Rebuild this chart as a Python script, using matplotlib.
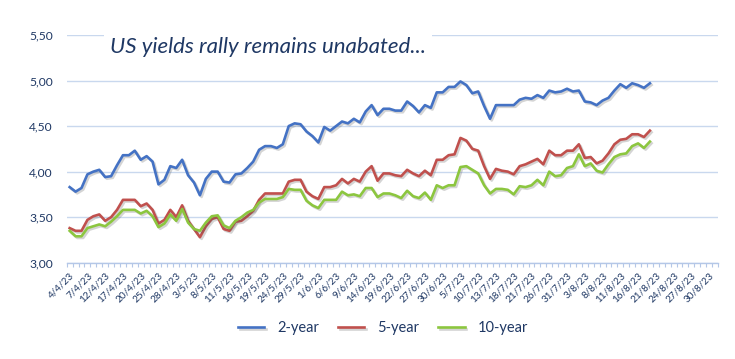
import matplotlib
matplotlib.use("Agg")
import matplotlib.pyplot as plt
import matplotlib.patheffects as pe
import matplotlib.transforms as mtransforms
import numpy as np

# ---- data ----
tick_labels = ["4/4/23", "7/4/23", "12/4/23", "17/4/23", "20/4/23", "25/4/23", "28/4/23",
               "3/5/23", "8/5/23", "11/5/23", "16/5/23", "19/5/23", "24/5/23", "29/5/23",
               "1/6/23", "6/6/23", "9/6/23", "14/6/23", "19/6/23", "22/6/23", "27/6/23",
               "30/6/23", "5/7/23", "10/7/23", "13/7/23", "18/7/23", "21/7/23", "26/7/23",
               "31/7/23", "3/8/23", "8/8/23", "11/8/23", "16/8/23", "21/8/23", "24/8/23",
               "27/8/23", "30/8/23"]
n_categories = 110

yield_2y = [3.83, 3.78, 3.82, 3.97, 4.00, 4.02, 3.94, 3.95, 4.07, 4.18,
            4.18, 4.23, 4.13, 4.17, 4.11, 3.86, 3.91, 4.06, 4.04, 4.13,
            3.96, 3.88, 3.74, 3.92, 4.00, 4.00, 3.89, 3.88, 3.97, 3.98,
            4.04, 4.11, 4.24, 4.28, 4.28, 4.26, 4.30, 4.50, 4.53, 4.52,
            4.44, 4.39, 4.32, 4.49, 4.45, 4.50, 4.55, 4.53, 4.58, 4.54,
            4.66, 4.73, 4.62, 4.69, 4.69, 4.67, 4.67, 4.77, 4.72, 4.65,
            4.73, 4.70, 4.87, 4.87, 4.93, 4.93, 4.99, 4.95, 4.86, 4.88,
            4.72, 4.58, 4.73, 4.73, 4.73, 4.73, 4.79, 4.81, 4.80, 4.84,
            4.81, 4.89, 4.87, 4.88, 4.91, 4.88, 4.89, 4.77, 4.76, 4.73,
            4.78, 4.81, 4.89, 4.96, 4.92, 4.97, 4.95, 4.92, 4.97]

yield_5y = [3.38, 3.35, 3.35, 3.47, 3.51, 3.53, 3.46, 3.50, 3.58, 3.69,
            3.69, 3.69, 3.62, 3.65, 3.58, 3.43, 3.47, 3.58, 3.50, 3.63,
            3.46, 3.37, 3.28, 3.40, 3.48, 3.50, 3.37, 3.35, 3.45, 3.46,
            3.51, 3.57, 3.69, 3.76, 3.76, 3.76, 3.76, 3.89, 3.91, 3.91,
            3.78, 3.73, 3.70, 3.83, 3.83, 3.85, 3.92, 3.87, 3.92, 3.89,
            4.00, 4.06, 3.90, 3.98, 3.98, 3.96, 3.95, 4.02, 3.98, 3.95,
            4.01, 3.96, 4.13, 4.13, 4.18, 4.19, 4.37, 4.34, 4.25, 4.23,
            4.06, 3.92, 4.03, 4.01, 4.00, 3.97, 4.06, 4.08, 4.11, 4.14,
            4.08, 4.23, 4.18, 4.18, 4.23, 4.23, 4.30, 4.15, 4.16, 4.09,
            4.12, 4.20, 4.30, 4.35, 4.36, 4.41, 4.41, 4.38, 4.45]

yield_10y = [3.35, 3.29, 3.29, 3.38, 3.40, 3.42, 3.40, 3.45, 3.51, 3.58,
             3.58, 3.58, 3.54, 3.57, 3.51, 3.39, 3.43, 3.53, 3.46, 3.59,
             3.44, 3.37, 3.35, 3.44, 3.51, 3.52, 3.41, 3.38, 3.46, 3.50,
             3.55, 3.58, 3.66, 3.70, 3.70, 3.70, 3.72, 3.81, 3.80, 3.80,
             3.68, 3.63, 3.60, 3.69, 3.69, 3.69, 3.78, 3.74, 3.75, 3.73,
             3.82, 3.82, 3.72, 3.76, 3.76, 3.74, 3.71, 3.79, 3.73, 3.71,
             3.77, 3.69, 3.85, 3.82, 3.85, 3.85, 4.05, 4.06, 4.02, 3.98,
             3.85, 3.76, 3.81, 3.81, 3.80, 3.75, 3.84, 3.83, 3.85, 3.91,
             3.85, 4.00, 3.95, 3.96, 4.04, 4.06, 4.19, 4.06, 4.09, 4.01,
             3.99, 4.08, 4.16, 4.19, 4.20, 4.28, 4.31, 4.26, 4.33]

series_names = ["2-year", "5-year", "10-year"]
y_ticks = [3.00, 3.50, 4.00, 4.50, 5.00, 5.50]

# ---- style ----
navy = "#1F3864"
grid_c = "#C9D8EE"
colors = ["#4472C4", "#C0504D", "#8CC63F"]
plt.rcParams['font.family'] = ['Lato', 'DejaVu Sans']

fig = plt.figure(figsize=(7.35, 3.59), dpi=100)
ax = fig.add_axes([66.7 / 735, 1 - 262.7 / 359, (718 - 66.7) / 735, (262.7 - 35) / 359])

x = np.arange(len(yield_2y))
for vals, name, c in zip([yield_2y, yield_5y, yield_10y], series_names, colors):
    ax.plot(x, vals, color=c, lw=1.9, label=name, solid_joinstyle='round', zorder=3,
            path_effects=[pe.SimpleLineShadow(offset=(1.2, -1.2), alpha=0.25, shadow_color='#555555'),
                          pe.Normal()])

ax.set_xlim(-0.5, n_categories - 0.5)
ax.set_ylim(3.0, 5.5)
ax.set_yticks(y_ticks)
ax.set_yticklabels([f"{v:.2f}".replace(".", ",") for v in y_ticks])
ax.grid(axis='y', color=grid_c, lw=1.0, zorder=0)
ax.set_axisbelow(True)

major_pos = np.arange(0, 3 * len(tick_labels), 3)
ax.set_xticks(major_pos)
ax.set_xticklabels(tick_labels, rotation=45, ha='right', rotation_mode='anchor',
                   fontsize=7.2, color=navy)
offset = mtransforms.ScaledTranslation(-4 / 100, 0, fig.dpi_scale_trans)
for lbl in ax.get_xticklabels():
    lbl.set_transform(lbl.get_transform() + offset)
ax.set_xticks(np.arange(-0.5, n_categories, 1), minor=True)
ax.tick_params(axis='x', which='major', length=0, pad=6)
ax.tick_params(axis='x', which='minor', length=3, color="#B4C7E7", width=0.8)
ax.tick_params(axis='y', length=0, pad=10, labelsize=8.7, labelcolor=navy)

for s in ['top', 'right', 'left']:
    ax.spines[s].set_visible(False)
ax.spines['bottom'].set_color("#B4C7E7")
ax.spines['bottom'].set_linewidth(1.0)

fig.text(110 / 735, 1 - 53 / 359, "US yields rally remains unabated...", fontsize=16,
         style='italic', color=navy, va='baseline', ha='left', zorder=5,
         bbox=dict(boxstyle='square,pad=0.25', facecolor='white', edgecolor='none'))

fig.legend(loc='center', bbox_to_anchor=(383 / 735, 1 - 328 / 359), ncol=3, frameon=False,
           fontsize=10.5, labelcolor=navy, handlelength=1.8, handletextpad=0.9,
           columnspacing=1.3)

fig.savefig("out.png", dpi=100)
